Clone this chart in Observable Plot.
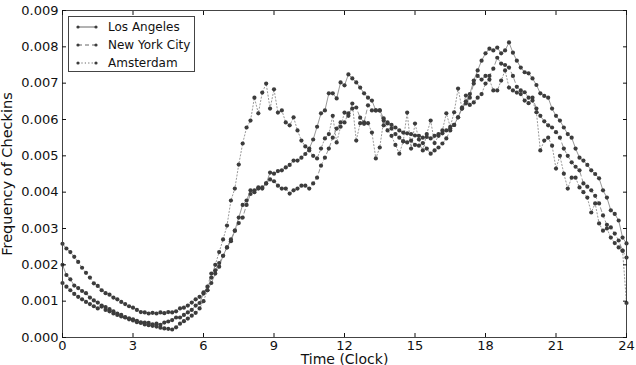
<!DOCTYPE html>
<html><head><meta charset="utf-8">
<script src="https://cdn.jsdelivr.net/npm/d3@7"></script>
<script src="https://cdn.jsdelivr.net/npm/@observablehq/plot@0.6"></script>
<style>
body{margin:0;background:#fff;font-family:"DejaVu Sans",sans-serif;}
#wrap{position:relative;width:636px;height:365px;}
#legend{position:absolute;left:68px;top:16px;width:127px;height:56px;border:1px solid #444;background:#fff;box-sizing:border-box;font-size:12px;color:#111;white-space:nowrap;}
#legend .row{position:absolute;left:0;height:18px;display:flex;align-items:center;white-space:nowrap;}
#legend svg{margin-left:7px;margin-right:10px;}
svg g[aria-label="x-axis label"] text{font-size:14px;}
svg g[aria-label="y-axis label"] text{font-size:14.5px;}
</style>
</head><body>
<div id="wrap"><div id="legend"></div></div>
<script>
// Values in units of 0.001 (frequency of checkins), sampled every 10 minutes from 0:00 to 24:00
const stepMinutes = 10;
const cities = ["Los Angeles", "New York City", "Amsterdam"];
const losAngeles = [
 2.00,1.72,1.60,1.43,1.36,1.28,
 1.22,1.10,1.02,0.96,0.88,0.84,
 0.78,0.72,0.66,0.62,0.56,0.53,
 0.50,0.46,0.42,0.41,0.40,0.36,
 0.38,0.35,0.41,0.44,0.48,0.55,
 0.55,0.62,0.69,0.76,0.88,0.95,
 1.21,1.30,1.50,1.76,1.95,2.25,
 2.48,2.65,2.94,3.30,3.65,3.77,
 4.05,4.00,4.13,4.10,4.24,4.54,
 4.51,4.58,4.60,4.68,4.75,4.87,
 4.87,4.95,5.05,5.20,5.45,5.80,
 6.17,6.25,6.72,6.72,6.58,7.02,
 6.94,7.24,7.13,7.02,6.88,6.72,
 6.60,6.52,6.25,6.25,6.03,5.89,
 5.85,5.78,5.70,5.64,5.62,5.60,
 5.56,5.55,5.50,5.52,5.48,5.55,
 5.60,5.62,5.70,5.75,5.85,6.06,
 6.33,6.50,6.70,7.07,7.35,7.62,
 7.82,7.95,7.90,7.98,7.82,7.90,
 8.12,7.84,7.62,7.43,7.30,7.27,
 7.13,6.95,6.72,6.65,6.60,6.30,
 6.10,5.97,5.78,5.60,5.50,5.20,
 4.95,4.87,4.75,4.60,4.50,4.38,
 4.05,3.85,3.50,3.40,3.22,2.75,
 2.59];
const newYorkCity = [
 2.58,2.45,2.35,2.22,2.08,1.92,
 1.78,1.65,1.49,1.42,1.30,1.22,
 1.18,1.10,1.05,0.98,0.92,0.86,
 0.82,0.76,0.70,0.69,0.66,0.68,
 0.66,0.69,0.67,0.70,0.69,0.72,
 0.80,0.82,0.88,0.96,1.05,1.12,
 1.24,1.40,1.76,1.85,2.05,2.25,
 2.48,2.70,2.94,3.15,3.30,3.65,
 3.95,4.05,4.10,4.13,4.24,4.35,
 4.30,4.18,4.10,4.10,3.96,4.05,
 4.10,4.18,4.18,4.10,4.24,4.40,
 4.73,4.95,5.20,5.50,5.75,5.92,
 5.92,6.17,6.30,6.33,6.05,5.92,
 6.39,6.25,6.25,6.25,5.84,5.92,
 5.75,5.60,5.50,5.40,5.37,5.42,
 5.30,5.28,5.35,5.20,5.06,5.15,
 5.23,5.34,5.48,5.70,5.85,6.06,
 6.30,6.44,6.60,6.99,7.20,7.10,
 7.20,7.20,7.40,7.70,7.54,7.50,
 7.43,7.20,6.90,6.80,6.75,6.60,
 6.60,6.30,6.10,5.95,5.84,5.78,
 5.65,5.50,5.20,5.00,4.82,4.70,
 4.60,4.24,4.15,4.05,3.90,3.69,
 3.36,3.10,3.03,2.86,2.67,2.39,
 2.20];
const amsterdam = [
 1.50,1.40,1.30,1.20,1.12,1.05,
 0.98,0.92,0.86,0.80,0.85,0.76,
 0.72,0.66,0.62,0.58,0.55,0.50,
 0.47,0.42,0.40,0.36,0.34,0.32,
 0.30,0.27,0.25,0.24,0.22,0.28,
 0.38,0.45,0.52,0.60,0.68,0.80,
 1.00,1.30,1.65,2.00,2.35,2.70,
 3.08,3.77,4.10,4.76,5.34,5.78,
 5.97,6.60,6.17,6.74,6.99,6.30,
 6.83,6.19,6.25,5.92,5.84,6.06,
 5.70,5.42,5.26,5.15,5.00,4.93,
 5.20,5.48,5.60,6.10,5.37,5.80,
 6.19,6.10,6.44,5.42,5.90,5.88,
 5.90,5.64,4.93,5.23,5.97,5.70,
 5.55,5.30,5.06,5.40,6.19,5.20,
 5.89,5.45,5.15,5.60,5.97,5.35,
 5.55,5.70,6.17,5.80,6.20,6.85,
 6.30,6.66,6.40,6.47,6.60,6.70,
 6.99,7.10,6.80,6.80,7.07,7.35,
 6.88,6.80,6.74,6.70,6.52,6.45,
 6.52,6.20,5.15,5.42,5.50,5.28,
 4.65,5.00,4.51,4.10,4.40,4.40,
 4.13,4.00,3.85,3.44,3.69,3.14,
 2.94,3.00,2.75,2.60,2.48,2.39,
 0.95];
const xTicks = [0, 3, 6, 9, 12, 15, 18, 21, 24];
const yTicks = [0, 0.001, 0.002, 0.003, 0.004, 0.005, 0.006, 0.007, 0.008, 0.009];
const dashes = {"Los Angeles": null, "New York City": "4,3", "Amsterdam": "1.2,2.2"};

const seriesValues = [losAngeles, newYorkCity, amsterdam];
const data = cities.map((city, k) =>
  seriesValues[k].map((v, i) => ({city, hour: i * stepMinutes / 60, freq: v / 1000})));

const lineColor = "#8c8c8c", dotColor = "#3c3c3c";
const marks = [];
data.forEach((rows, k) => {
  marks.push(Plot.line(rows, {x: "hour", y: "freq", stroke: lineColor, strokeWidth: 0.9, strokeDasharray: dashes[cities[k]]}));
});
data.forEach(rows => {
  marks.push(Plot.dot(rows, {x: "hour", y: "freq", r: 2.1, fill: dotColor, stroke: null}));
});

const chart = Plot.plot({
  width: 636, height: 365,
  marginTop: 10, marginRight: 10, marginBottom: 28, marginLeft: 62,
  style: {fontFamily: "DejaVu Sans", fontSize: "13px", color: "#111", background: "#fff"},
  x: {domain: [0, 24]},
  y: {domain: [0, 0.009]},
  marks: [
    ...marks,
    Plot.frame({stroke: "#444"}),
    Plot.axisX({ticks: xTicks, tickSize: -4, tickPadding: 7, fontSize: 13, label: "Time (Clock)", labelAnchor: "center", labelArrow: "none", labelOffset: 26}),
    Plot.axisX({anchor: "top", ticks: xTicks, tickSize: -4, tickFormat: () => "", label: null}),
    Plot.axisY({ticks: yTicks, tickFormat: d3.format(".3f"), tickSize: -4, tickPadding: 8, fontSize: 13, label: "Frequency of Checkins", labelAnchor: "center", labelArrow: "none", labelOffset: 61}),
    Plot.axisY({anchor: "right", ticks: yTicks, tickSize: -4, tickFormat: () => "", label: null})
  ]
});
document.getElementById("wrap").prepend(chart);

// legend
const legend = document.getElementById("legend");
cities.forEach((city, k) => {
  const row = document.createElement("div");
  row.className = "row";
  row.style.top = (1 + k * 18) + "px";
  const dash = dashes[city] ? `stroke-dasharray="${dashes[city]}"` : "";
  row.innerHTML = `<svg width="22" height="10"><line x1="2" y1="5" x2="20" y2="5" stroke="#555" stroke-width="0.9" ${dash}/><circle cx="2" cy="5" r="1.6" fill="${dotColor}"/><circle cx="20" cy="5" r="1.6" fill="${dotColor}"/></svg><span>${city}</span>`;
  legend.appendChild(row);
});
</script>
</body></html>
